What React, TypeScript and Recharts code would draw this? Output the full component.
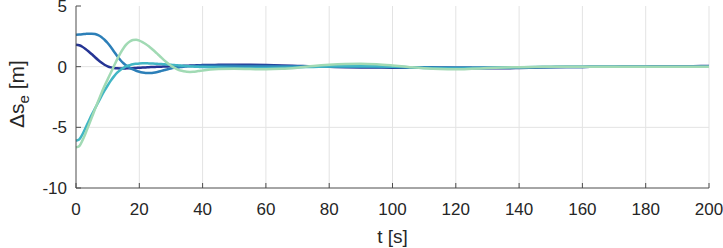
import { CartesianGrid, Label, Line, LineChart, XAxis, YAxis } from "recharts"

const t = [
  0, 1, 2, 3, 4, 5, 6, 7, 8, 9, 10, 11, 12, 13, 14, 15, 16, 17, 18, 19, 20,
  21, 22, 23, 24, 25, 26, 27, 28, 29, 30, 31, 32, 33, 34, 35, 36, 37, 38, 39, 40,
  45, 50, 55, 60, 65, 70, 75, 80, 85, 90, 95, 100, 105, 110, 115, 120, 125, 130,
  135, 140, 145, 150, 155, 160, 165, 170, 175, 180, 185, 190, 195, 200,
]

const darkBlue = [
  1.8, 1.76, 1.64, 1.46, 1.25, 1.02, 0.78, 0.55, 0.34, 0.16, 0.03, -0.06, -0.11, -0.14, -0.15, -0.15,
  -0.14, -0.13, -0.12, -0.1, -0.09, -0.07, -0.06, -0.04, -0.03, -0.02, -0.01, 0, 0.01, 0.02, 0.03,
  0.04, 0.05, 0.06, 0.07, 0.08, 0.09, 0.1, 0.11, 0.12, 0.13,
  0.15, 0.16, 0.15, 0.13, 0.1, 0.06, 0.02, -0.01, -0.04, -0.06, -0.07, -0.08, -0.08, -0.08, -0.09,
  -0.1, -0.12, -0.13, -0.13, -0.11, -0.08, -0.05, -0.03, -0.02, -0.01, 0, 0.01, 0.02, 0.03, 0.03,
  0.04, 0.05,
]

const midBlue = [
  2.64, 2.65, 2.67, 2.7, 2.72, 2.72, 2.69, 2.6, 2.45, 2.22, 1.95, 1.62, 1.25, 0.88, 0.55, 0.28, 0.07,
  -0.1, -0.23, -0.34, -0.42, -0.48, -0.52, -0.53, -0.52, -0.48, -0.42, -0.35, -0.28, -0.21, -0.15,
  -0.1, -0.06, -0.03, 0, 0.02, 0.04, 0.05, 0.06, 0.07, 0.07,
  0.08, 0.07, 0.06, 0.05, 0.04, 0.03, 0.02, 0.01, 0, -0.01, -0.02, -0.03, -0.04, -0.05, -0.06, -0.07,
  -0.07, -0.07, -0.06, -0.05, -0.04, -0.03, -0.02, -0.02, -0.01, -0.01, 0, 0, 0, 0, 0, 0,
]

const cyan = [
  -6.1, -6.0, -5.6, -5.05, -4.5, -3.95, -3.45, -2.95, -2.45, -1.98, -1.55, -1.15, -0.8, -0.5, -0.27,
  -0.1, 0.04, 0.13, 0.2, 0.24, 0.27, 0.28, 0.28, 0.27, 0.26, 0.25, 0.23, 0.21, 0.19, 0.17, 0.15, 0.13,
  0.11, 0.09, 0.07, 0.05, 0.03, 0.01, -0.01, -0.02, -0.03,
  -0.07, -0.1, -0.11, -0.1, -0.08, -0.05, -0.02, 0.01, 0.03, 0.04, 0.03, 0, -0.05, -0.1, -0.14, -0.15,
  -0.13, -0.1, -0.07, -0.05, -0.03, -0.02, -0.01, -0.01, 0, 0, 0, 0, 0, 0, 0, 0,
]

const green = [
  -6.65, -6.55, -6.1, -5.5, -4.85, -4.18, -3.5, -2.85, -2.2, -1.6, -1.05, -0.5, 0.05, 0.6, 1.1, 1.52,
  1.85, 2.08, 2.2, 2.22, 2.15, 2.03, 1.87, 1.68, 1.46, 1.23, 0.98, 0.74, 0.5, 0.28, 0.08, -0.08, -0.22,
  -0.32, -0.38, -0.42, -0.43, -0.42, -0.39, -0.35, -0.31,
  -0.2, -0.18, -0.2, -0.22, -0.18, -0.08, 0.05, 0.15, 0.22, 0.25, 0.2, 0.1, -0.02, -0.13, -0.2, -0.22,
  -0.18, -0.12, -0.07, -0.04, -0.02, -0.01, 0, 0, 0, 0, 0, 0, 0, 0, 0, 0,
]

const xTicks = [0, 20, 40, 60, 80, 100, 120, 140, 160, 180, 200]
const yTicks = [-10, -5, 0, 5]

const data = t.map((v, i) => ({
  t: v,
  a: darkBlue[i],
  b: midBlue[i],
  c: cyan[i],
  d: green[i],
}))

const font = "'Liberation Sans', Arial, sans-serif"
const axisColor = "#4d4d4d"
const textColor = "#262626"

function YLabel() {
  return (
    <text
      x={24}
      y={94}
      transform="rotate(-90, 24, 94)"
      textAnchor="middle"
      fontFamily={font}
      fontSize={21}
      fill={textColor}
    >
      Δs
      <tspan dy={5} fontSize={15}>e</tspan>
      <tspan dy={-5}> [m]</tspan>
    </text>
  )
}

export default function App() {
  return (
    <div style={{ position: "absolute", left: 0, top: 0 }}>
      <LineChart width={723} height={248} data={data} margin={{ top: 6, right: 14, bottom: 0, left: 0 }}>
        <CartesianGrid
          stroke="#e3e3e3"
          horizontalValues={[-5, 0]}
          verticalValues={[20, 40, 60, 80, 100, 120, 140, 160, 180, 200]}
        />
        <XAxis
          dataKey="t"
          type="number"
          domain={[0, 200]}
          ticks={xTicks}
          height={60}
          stroke={axisColor}
          tickSize={-5}
          tickMargin={20}
          tick={{ fill: textColor, fontSize: 17, fontFamily: font }}
          interval={0}
        >
          <Label value="t [s]" position="insideBottom" offset={5} fill={textColor} fontSize={19} fontFamily={font} />
        </XAxis>
        <YAxis
          type="number"
          domain={[-10, 5]}
          ticks={yTicks}
          width={76}
          stroke={axisColor}
          tickSize={-5}
          tickMargin={14}
          tick={{ fill: textColor, fontSize: 17, fontFamily: font }}
          interval={0}
          label={{ content: () => <YLabel /> }}
        />
        <Line type="monotone" dataKey="a" stroke="#253494" strokeWidth={2.5} dot={false} isAnimationActive={false} />
        <Line type="monotone" dataKey="b" stroke="#2c7fb8" strokeWidth={2.5} dot={false} isAnimationActive={false} />
        <Line type="monotone" dataKey="c" stroke="#41b6c4" strokeWidth={2.5} dot={false} isAnimationActive={false} />
        <Line type="monotone" dataKey="d" stroke="#a1dab4" strokeWidth={2.5} dot={false} isAnimationActive={false} />
      </LineChart>
    </div>
  )
}
